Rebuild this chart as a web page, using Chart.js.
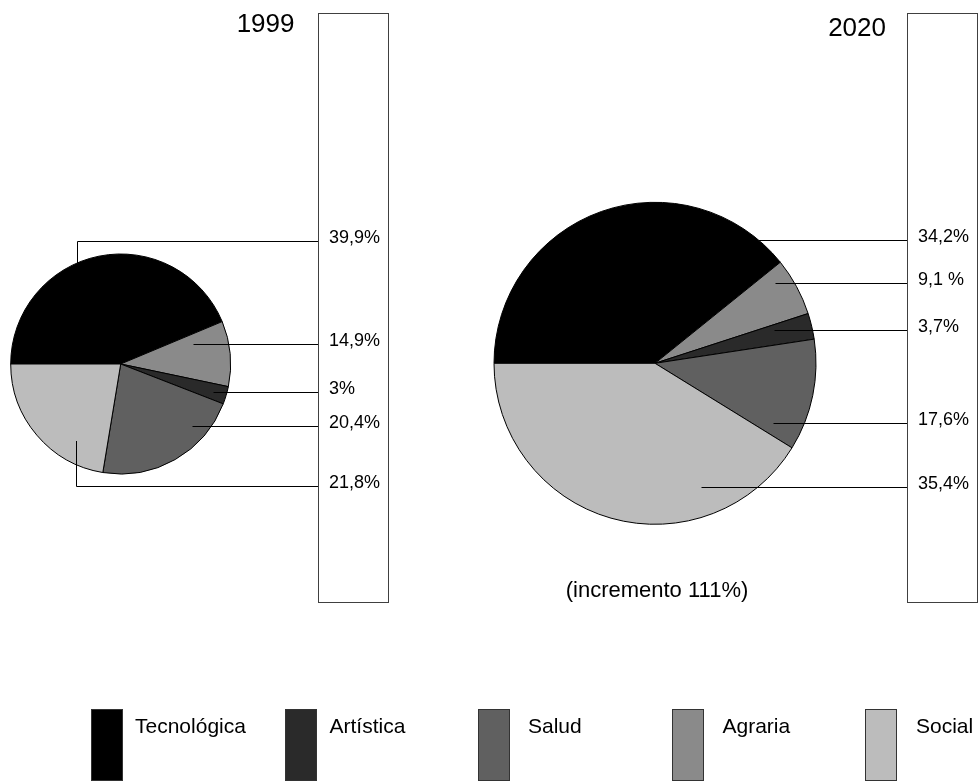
<!DOCTYPE html>
<html><head><meta charset="utf-8">
<script src="https://cdn.jsdelivr.net/npm/chart.js@4.4.0/dist/chart.umd.min.js"></script>
<style>
html,body{margin:0;padding:0;background:#fff;}
body{width:979px;height:783px;position:relative;overflow:hidden;font-family:"Liberation Sans",Arial,sans-serif;}
canvas{position:absolute;left:0;top:0;}
.sw{position:absolute;width:30px;height:70px;border:1px solid #333;}
.lt{position:absolute;font-size:21px;color:#000;white-space:nowrap;line-height:21px;}
</style></head><body>
<canvas id="c1" width="979" height="783"></canvas>
<canvas id="c2" width="979" height="783"></canvas>
<div id="legend"></div>
<script>
// ---- data ----
const sliceCategories = ['Tecnológica', 'Agraria', 'Artística', 'Salud', 'Social'];
const values1999 = [43.7, 9.6, 2.6, 21.7, 22.4];   // slice sizes as drawn
const values2020 = [39.2, 5.8, 2.6, 11.2, 41.2];   // slice sizes as drawn
const labels1999 = ['39,9%', '14,9%', '3%', '20,4%', '21,8%'];
const labels2020 = ['34,2%', '9,1 %', '3,7%', '17,6%', '35,4%'];
const years = ['1999', '2020'];
const note2020 = '(incremento 111%)';
const legendCategories = ['Tecnológica', 'Artística', 'Salud', 'Agraria', 'Social'];

// ---- styles ----
const categoryColors = {
  'Tecnológica': '#000000',
  'Artística': '#2a2a2a',
  'Salud': '#606060',
  'Agraria': '#8a8a8a',
  'Social': '#bcbcbc'
};
const FONT = '"Liberation Sans", Arial, sans-serif';

// ---- layout ----
const layouts = [
  {
    center: [120.7, 364], radius: 110,
    box: [318, 13, 70, 589],
    titlePos: [294.5, 32],
    labelDx: 11,
    leaders: [
      { f: 0.422, r: 1.0, elbow: -1.122 },
      { f: 0.217, r: 0.684 },
      { f: 0.54, r: 0.877 },
      { f: 0.253, r: 0.855 },
      { f: 0.259, r: 0.807, elbow: 1.11 }
    ]
  },
  {
    center: [655, 363.3], radius: 161,
    box: [907, 13, 70, 589],
    titlePos: [886, 35.5],
    labelDx: 11,
    note: [657, 597],
    leaders: [
      { f: 0.921, r: 1.0 },
      { f: 0.248, r: 0.896 },
      { f: 0.274, r: 0.766 },
      { f: 0.881, r: 0.82 },
      { f: 0.256, r: 0.817 }
    ]
  }
];
const legendLayout = { x0: 91, dx: 193.5, y: 709, textOffsets: [44, 45, 50, 51, 51], textTop: 715 };

function makeChart(canvasId, values, labelTexts, title, lay, note) {
  const W = 979, H = 783;
  const [cx, cy] = lay.center, R = lay.radius;
  const annot = {
    id: 'annot',
    afterDatasetsDraw(chart) {
      const ctx = chart.ctx;
      const arcs = chart.getDatasetMeta(0).data;
      ctx.save();
      ctx.strokeStyle = '#404040';
      ctx.lineWidth = 1;
      const [bx, by, bw, bh] = lay.box;
      ctx.strokeRect(bx + 0.5, by + 0.5, bw, bh);

      ctx.fillStyle = '#000';
      ctx.font = '26px ' + FONT;
      ctx.textAlign = 'right';
      ctx.textBaseline = 'alphabetic';
      ctx.fillText(title, lay.titlePos[0], lay.titlePos[1]);

      ctx.strokeStyle = '#000';
      ctx.font = '18px ' + FONT;
      ctx.textAlign = 'left';
      lay.leaders.forEach((ld, i) => {
        const a = arcs[i].getProps(['x', 'y', 'startAngle', 'endAngle', 'outerRadius'], true);
        const ang = a.startAngle + ld.f * (a.endAngle - a.startAngle);
        const px = Math.round(a.x + Math.cos(ang) * a.outerRadius * ld.r) + 0.5;
        const py = a.y + Math.sin(ang) * a.outerRadius * ld.r;
        const ly = Math.round(ld.elbow != null ? a.y + ld.elbow * a.outerRadius : py) + 0.5;
        ctx.beginPath();
        if (ld.elbow != null) {
          ctx.moveTo(px, Math.round(py));
          ctx.lineTo(px, ly);
        } else {
          ctx.moveTo(px, ly);
        }
        ctx.lineTo(bx, ly);
        ctx.stroke();
        ctx.fillText(labelTexts[i], bx + lay.labelDx, ly + 1.5);
      });

      if (note) {
        ctx.font = '22px ' + FONT;
        ctx.textAlign = 'center';
        ctx.fillText(note, lay.note[0], lay.note[1]);
      }
      ctx.restore();
    }
  };
  return new Chart(document.getElementById(canvasId), {
    type: 'pie',
    data: {
      labels: sliceCategories,
      datasets: [{
        data: values,
        backgroundColor: sliceCategories.map(c => categoryColors[c]),
        borderColor: '#000',
        borderWidth: 1,
        hoverOffset: 0,
        radius: R
      }]
    },
    options: {
      responsive: false,
      animation: false,
      events: [],
      rotation: -90,
      devicePixelRatio: 1,
      layout: { padding: { left: cx - R, right: W - cx - R, top: cy - R, bottom: H - cy - R } },
      plugins: { legend: { display: false }, tooltip: { enabled: false } }
    },
    plugins: [annot]
  });
}

makeChart('c1', values1999, labels1999, years[0], layouts[0], null);
makeChart('c2', values2020, labels2020, years[1], layouts[1], note2020);

// legend
const leg = document.getElementById('legend');
legendCategories.forEach((c, i) => {
  const x = legendLayout.x0 + i * legendLayout.dx;
  const sw = document.createElement('div');
  sw.className = 'sw';
  sw.style.left = x + 'px';
  sw.style.top = legendLayout.y + 'px';
  sw.style.background = categoryColors[c];
  leg.appendChild(sw);
  const t = document.createElement('div');
  t.className = 'lt';
  t.style.left = (x + legendLayout.textOffsets[i]) + 'px';
  t.style.top = legendLayout.textTop + 'px';
  t.textContent = c;
  leg.appendChild(t);
});
</script>
</body></html>
